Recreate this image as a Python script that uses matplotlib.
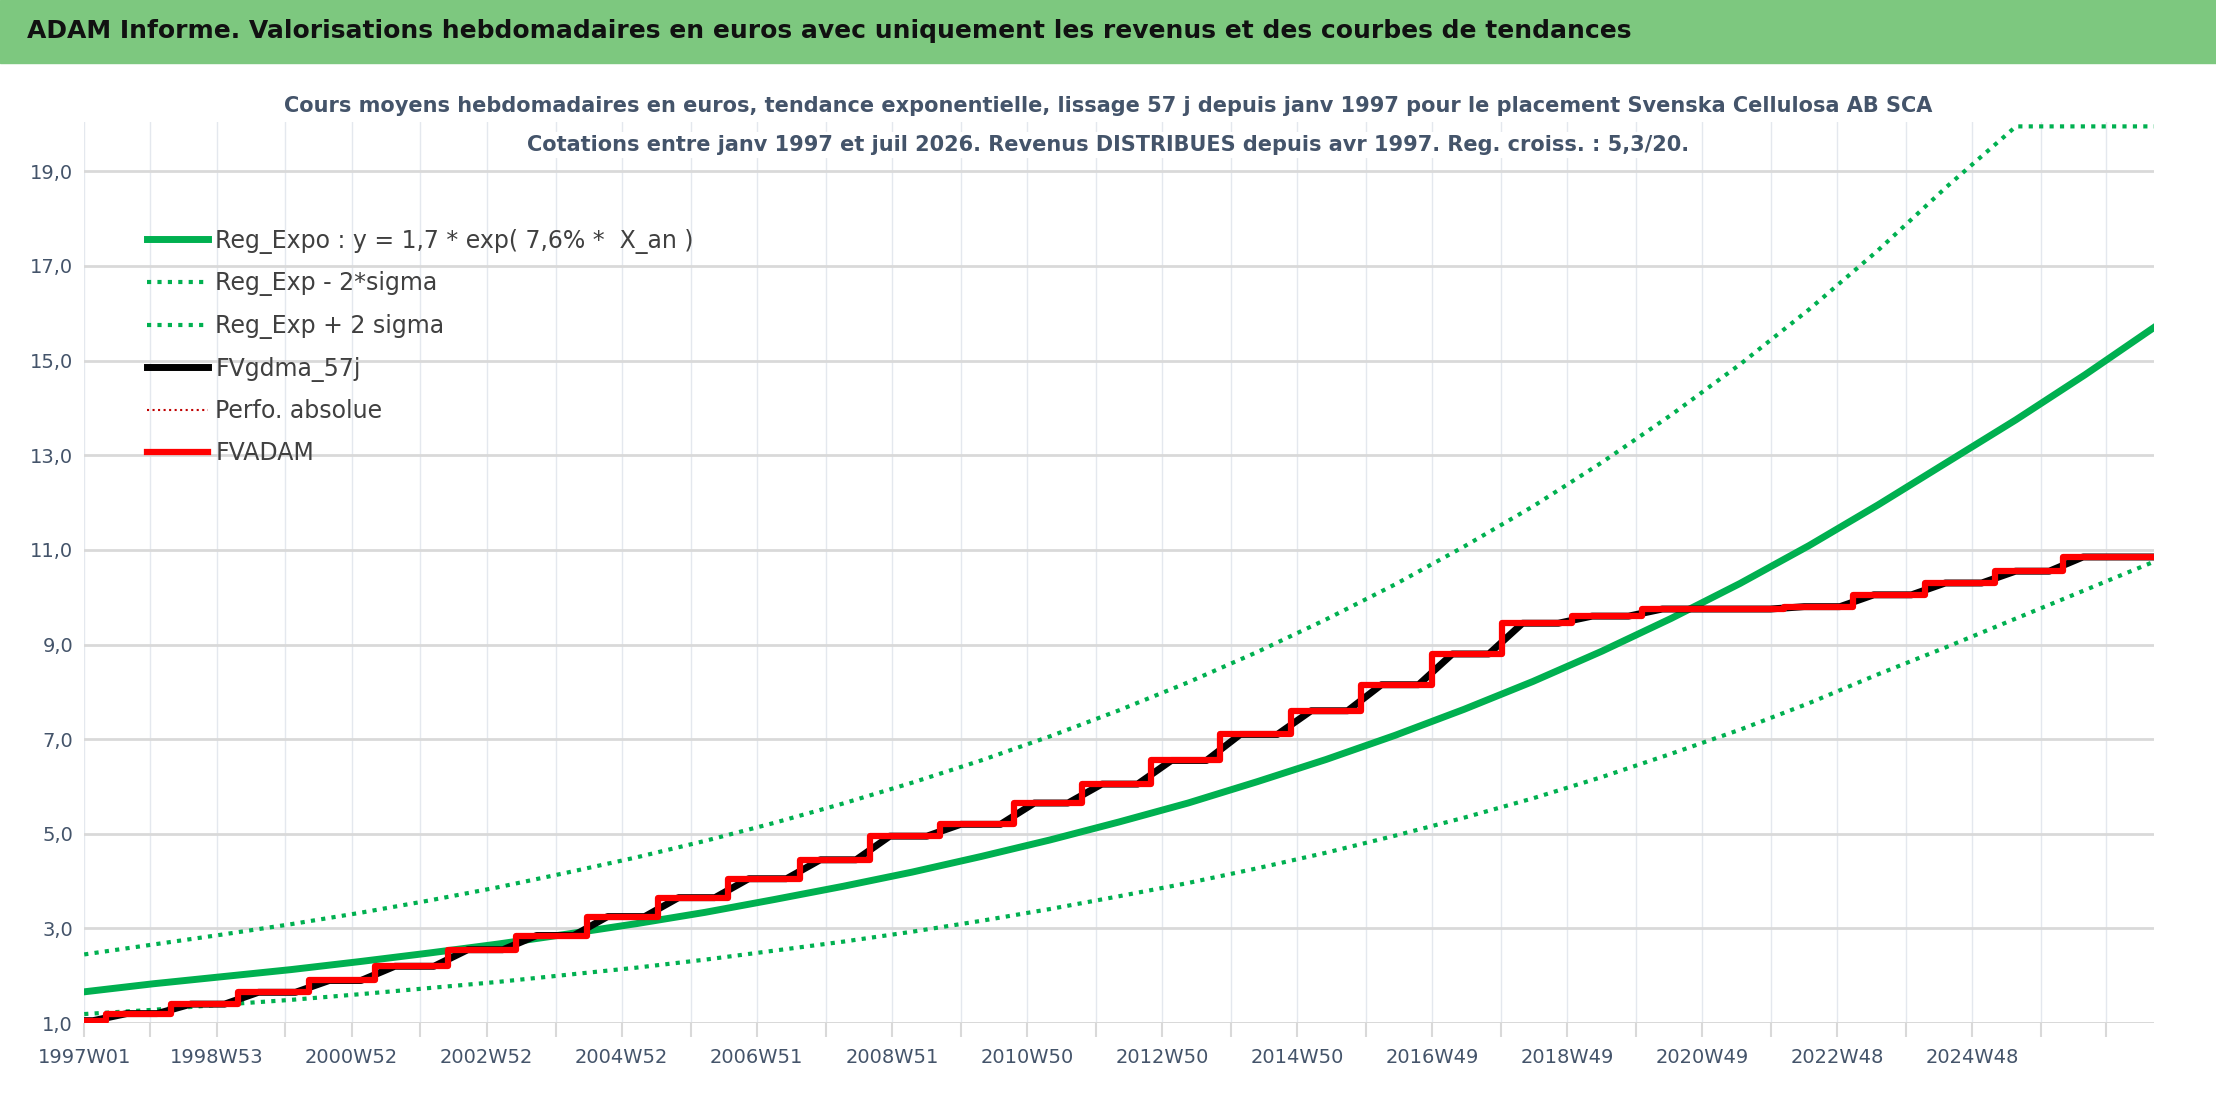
import matplotlib
matplotlib.use("Agg")
import matplotlib.pyplot as plt
import numpy as np

plt.rcParams['font.family'] = ['DejaVu Sans']

# step dates (chart x units, in years) and FVADAM levels
step_t = [1997.0, 1997.33, 1998.28, 1999.28, 2000.33, 2001.3, 2002.38, 2003.4, 2004.45,
          2005.5, 2006.54, 2007.6, 2008.63, 2009.68, 2010.77, 2011.77, 2012.8, 2013.82,
          2014.87, 2015.91, 2016.96, 2018.0, 2019.03, 2020.07, 2022.17, 2023.2, 2024.26,
          2025.3, 2026.3]
step_v = [1.05, 1.2, 1.4, 1.65, 1.9, 2.2, 2.55, 2.85, 3.25, 3.65, 4.05, 4.45, 4.95,
          5.2, 5.65, 6.05, 6.55, 7.1, 7.6, 8.15, 8.8, 9.45, 9.6, 9.75, 9.8, 10.05,
          10.3, 10.55, 10.85]
t_end = 2027.65

# trend values, one per year from 1997 to the end
reg = [1.66, 1.83, 1.98, 2.13, 2.30, 2.48, 2.67, 2.88, 3.10, 3.34, 3.61, 3.89, 4.19, 4.52,
       4.87, 5.25, 5.65, 6.10, 6.57, 7.08, 7.63, 8.22, 8.86, 9.55, 10.29, 11.09, 11.95,
       12.85, 13.75, 14.7, 15.7]
upper = [2.45, 2.66, 2.87, 3.09, 3.33, 3.59, 3.87, 4.18, 4.50, 4.85, 5.23, 5.64, 6.08,
         6.55, 7.06, 7.61, 8.20, 8.84, 9.53, 10.27, 11.07, 11.92, 12.85, 13.85, 14.92,
         16.08, 17.33, 18.68, 19.95, 19.95, 19.95]
lower = [1.19, 1.28, 1.39, 1.49, 1.61, 1.74, 1.87, 2.02, 2.17, 2.34, 2.53, 2.72, 2.93,
         3.16, 3.41, 3.68, 3.96, 4.27, 4.60, 4.96, 5.34, 5.75, 6.20, 6.69, 7.20, 7.76,
         8.37, 8.95, 9.55, 10.15, 10.75]
trend_t = np.linspace(1997.0, t_end, len(reg))

tick_lab = ['1997W01', '1998W53', '2000W52', '2002W52', '2004W52', '2006W51', '2008W51',
            '2010W50', '2012W50', '2014W50', '2016W49', '2018W49', '2020W49', '2022W48',
            '2024W48']
tick_pos = [1997.0] + [1998.96 + 2 * k for k in range(len(tick_lab) - 1)]
minor_pos = [1997.98 + 2 * k for k in range(len(tick_lab))] + [tick_pos[-1] + 1.98]

GREEN = '#00B050'
fig = plt.figure(figsize=(22.16, 11.06), dpi=100)
fig.patches.append(plt.Rectangle((0, 0.943), 1, 0.057, transform=fig.transFigure,
                                 color='#7DC87F', zorder=0))
fig.text(0.012, 0.972, "ADAM Informe. Valorisations hebdomadaires en euros avec uniquement les revenus et des courbes de tendances",
         fontsize=18, fontweight='bold', va='center', color='#111111')

ax = fig.add_axes([0.038, 0.075, 0.934, 0.815])

# smoothed curve: ramps between levels
bt, bv = [step_t[0]], [step_v[0]]
for i in range(1, len(step_t)):
    bt += [step_t[i] - 0.2, step_t[i] + 0.3]
    bv += [step_v[i - 1], step_v[i]]
bt.append(t_end); bv.append(step_v[-1])

ax.plot(trend_t, reg, color=GREEN, lw=5, label='Reg_Expo : y = 1,7 * exp( 7,6% *  X_an )', zorder=3)
ax.plot(trend_t, lower, color=GREEN, lw=3, ls=(0, (1, 1.5)), label='Reg_Exp - 2*sigma', zorder=3)
ax.plot(trend_t, upper, color=GREEN, lw=3, ls=(0, (1, 1.5)), label='Reg_Exp + 2 sigma', zorder=3)
ax.plot(bt, bv, color='black', lw=5, label='FVgdma_57j', zorder=4)
ax.step(step_t + [t_end], step_v + [step_v[-1]], where='post', color='#C00000', lw=1.5,
        ls=':', label='Perfo. absolue', zorder=4)
ax.step(step_t + [t_end], step_v + [step_v[-1]], where='post', color='#FF0000', lw=4.5,
        label='FVADAM', zorder=5)

ax.set_xlim(1997.0, t_end)
ax.set_ylim(1.0, 20.05)
ax.set_yticks(np.arange(1, 20, 2))
ax.set_yticklabels([f"{v:.1f}".replace('.', ',') for v in np.arange(1, 20, 2)])
ax.set_xticks(tick_pos)
ax.set_xticklabels(tick_lab)
ax.set_xticks(minor_pos, minor=True)
ax.tick_params(axis='both', which='both', length=0, labelsize=14, colors='#44546A', pad=8)
ax.tick_params(axis='x', which='both', length=10, color='#D9D9D9', width=1.5)
ax.grid(axis='y', color='#D9D9D9', lw=2)
ax.grid(axis='x', which='both', color='#E4E8EE', lw=1)
for s in ax.spines.values():
    s.set_visible(False)
ax.axhline(1.0, color='#D9D9D9', lw=2)

ax.legend(loc='upper left', bbox_to_anchor=(0.02, 0.905), frameon=False, fontsize=17,
          labelcolor='#404040', handlelength=2.6, labelspacing=0.75, handletextpad=0.3)

fig.text(0.5, 0.904, "Cours moyens hebdomadaires en euros, tendance exponentielle, lissage 57 j depuis janv 1997 pour le placement Svenska Cellulosa AB SCA",
         ha='center', va='center', fontsize=15, fontweight='bold', color='#44546A',
         bbox=dict(facecolor='white', edgecolor='none', pad=2))
fig.text(0.5, 0.869, "Cotations entre janv 1997 et juil 2026. Revenus DISTRIBUES depuis avr 1997. Reg. croiss. : 5,3/20.",
         ha='center', va='center', fontsize=15, fontweight='bold', color='#44546A',
         bbox=dict(facecolor='white', edgecolor='none', pad=2), zorder=10)

fig.savefig('out.png', dpi=100)
